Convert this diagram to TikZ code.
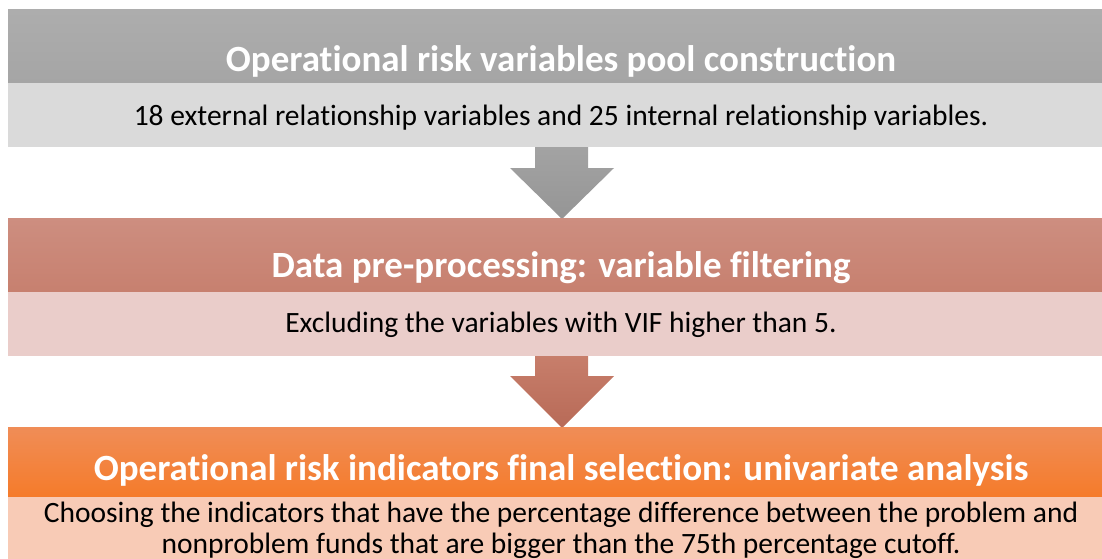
\documentclass[tikz,border=0pt]{standalone}
\usepackage{fontspec}
\setmainfont{Carlito}[Ligatures={NoCommon}]
\definecolor{hdA}{HTML}{A5A5A5}
\definecolor{hdAt}{HTML}{ADADAD}
\definecolor{bdA}{HTML}{DADADA}
\definecolor{arAt}{HTML}{A3A3A3}
\definecolor{arAb}{HTML}{959595}
\definecolor{hdBt}{HTML}{CD8E80}
\definecolor{hdBb}{HTML}{C7806F}
\definecolor{bdB}{HTML}{EACDCA}
\definecolor{arBt}{HTML}{C77E6B}
\definecolor{arBb}{HTML}{B86A57}
\definecolor{hdCt}{HTML}{F08D57}
\definecolor{hdCb}{HTML}{F57B2A}
\definecolor{bdC}{HTML}{F8CBB6}
\tikzset{
  titletext/.style={text=white, font=\fontsize{37}{44}\selectfont\bfseries, inner sep=0pt, anchor=base},
  bodytext/.style={text=black, font=\fontsize{29.5}{31}\selectfont, inner sep=0pt, anchor=base},
}
\begin{document}
\begin{tikzpicture}[x=1pt,y=-1pt]
\useasboundingbox (0,0) rectangle (1102,559);
% box 1
\shade[top color=hdAt, bottom color=hdA] (8,10) rectangle (1102,83);
\fill[bdA] (8,83) rectangle (1102,147);
\node[titletext] (t1) at (561,72) {Operational risk variables pool construction};
\node[bodytext] (b1) at (561,125) {18 external relationship variables and 25 internal relationship variables.};
% arrow 1
\shade[top color=arAt, bottom color=arAb] (535,147) -- (588,147) -- (588,168) -- (614,168) -- (562,219) -- (510,168) -- (535,168) -- cycle;
% box 2
\shade[top color=hdBt, bottom color=hdBb] (8,218) rectangle (1102,292);
\fill[bdB] (8,292) rectangle (1102,356);
\node[titletext] (t2) at (561,277) {Data pre-processing: variable filtering};
\node[bodytext] (b2) at (561,332) {Excluding the variables with VIF higher than 5.};
% arrow 2
\shade[top color=arBt, bottom color=arBb] (535,356) -- (588,356) -- (588,376) -- (614,376) -- (562,428) -- (510,376) -- (535,376) -- cycle;
% box 3
\shade[top color=hdCt, bottom color=hdCb] (8,427) rectangle (1102,497);
\fill[bdC] (8,497) rectangle (1102,559);
\node[titletext] (t3) at (561,480) {Operational risk indicators final selection: univariate analysis};
\node[bodytext] (b3a) at (561,522) {Choosing the indicators that have the percentage difference between the problem and};
\node[bodytext] (b3b) at (561,553) {nonproblem funds that are bigger than the 75th percentage cutoff.};
\end{tikzpicture}
\end{document}
